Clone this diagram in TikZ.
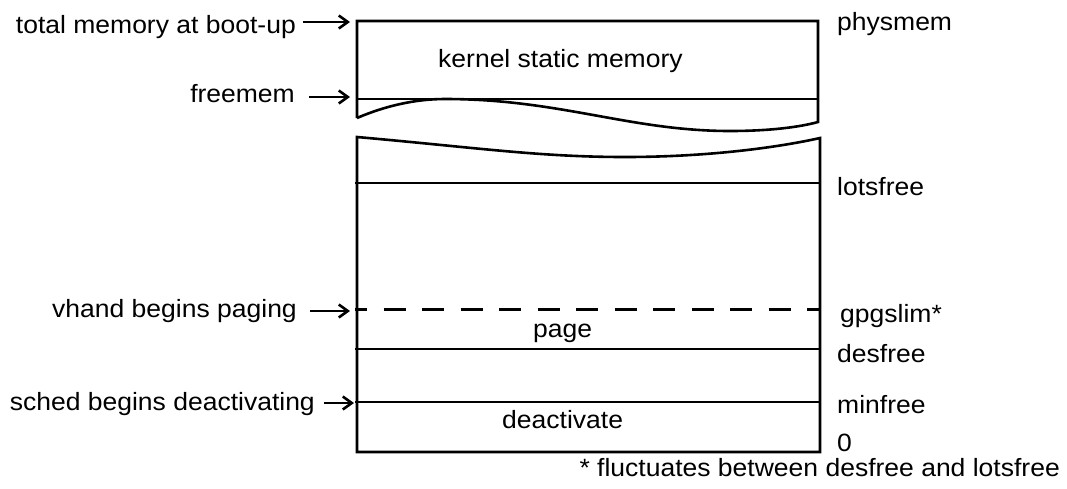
\documentclass[tikz,border=0pt]{standalone}
\usepackage{fontspec}
\setmainfont{Liberation Sans}[FakeStretch=1.06]
\usetikzlibrary{arrows.meta}
\tikzset{
  lbl/.style={inner sep=0pt, font=\fontsize{25}{29}\selectfont},
  edge/.style={line width=2.6pt, line join=miter},
  level/.style={line width=2.6pt},
  limit/.style={line width=3pt, dash pattern=on 22pt off 16.5pt, dash phase=10pt},
  pointer/.style={line width=2.6pt, -{Straight Barb[length=9pt,width=13pt,line width=2.6pt]}, shorten <=7pt}
}
\begin{document}
\begin{tikzpicture}[x=1pt,y=-1pt]
\useasboundingbox (0,0) rectangle (1067,488);

% upper block: kernel area, torn off at the bottom
\draw[edge] (357,118) -- (357,21) -- (818,21) -- (818,122)
  .. controls (800,127) and (770,131) .. (730,131)
  .. controls (630,131) and (560,99) .. (445,99)
  .. controls (415,99) and (385,106) .. (357,118);
\draw[level] (357,99) -- (818,99);

% lower block: free memory, torn off at the top
\draw[edge] (357,137)
  .. controls (480,148) and (540,157) .. (625,157)
  .. controls (710,157) and (780,147) .. (820,138)
  -- (820,452) -- (357,452) -- cycle;

% thresholds
\draw[level] (355,183) -- (820,183);
\draw[limit] (355,309) -- (820,309);
\draw[level] (355,349) -- (820,349);
\draw[level] (355,402) -- (820,402);

% region names
\node[lbl, anchor=base west] (kern) at (438,67) {kernel static memory};
\node[lbl, anchor=base west] (pg) at (533,337) {page};
\node[lbl, anchor=base west] (deact) at (502,428) {deactivate};

% values on the right
\node[lbl, anchor=base west] (physmem) at (837,30) {physmem};
\node[lbl, anchor=base west] (lotsfree) at (837,195) {lotsfree};
\node[lbl, anchor=base west] (gpgslim) at (840,322) {gpgslim*};
\node[lbl, anchor=base west] (desfree) at (837,362) {desfree};
\node[lbl, anchor=base west] (minfree) at (837,413) {minfree};
\node[lbl, anchor=base west] (zero) at (837,451) {0};
\node[lbl, anchor=base east] (note) at (1060,476) {* fluctuates between desfree and lotsfree};

% events on the left
\node[lbl, anchor=base east] (boot) at (296,33) {total memory at boot-up};
\node[lbl, anchor=base east] (fm) at (295,102) {freemem};
\node[lbl, anchor=base east] (vhand) at (297,317) {vhand begins paging};
\node[lbl, anchor=base east] (sched) at (315,410) {sched begins deactivating};

\coordinate (tboot) at (350,22);
\coordinate (tfm) at (350,97);
\coordinate (tvhand) at (350,311);
\coordinate (tsched) at (354,403);

\draw[pointer] (boot.east |- tboot) -- (tboot);
\draw[pointer, shorten <=14pt] (fm.east |- tfm) -- (tfm);
\draw[pointer, shorten <=13pt] (vhand.east |- tvhand) -- (tvhand);
\draw[pointer, shorten <=9pt] (sched.east |- tsched) -- (tsched);
\end{tikzpicture}
\end{document}
